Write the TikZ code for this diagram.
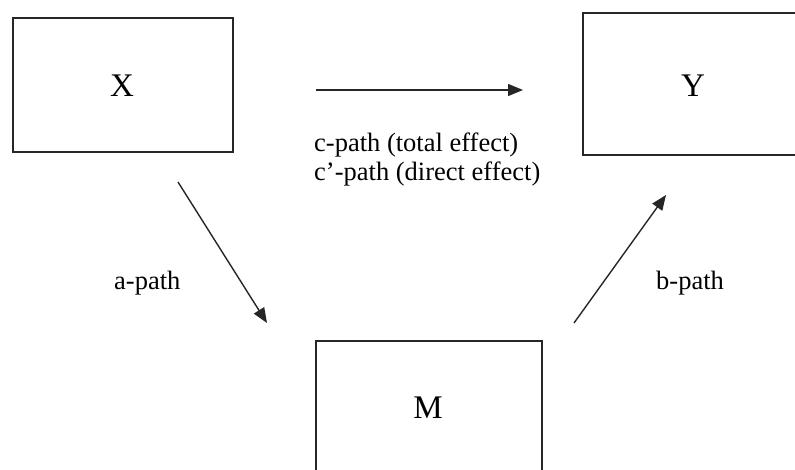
\documentclass[tikz,border=0pt]{standalone}
\usepackage{fontspec}
\setmainfont{Liberation Serif}
\usetikzlibrary{arrows.meta}
\begin{document}
\begin{tikzpicture}[x=1pt,y=-1pt,
  box/.style={draw=black!85,line width=1.6pt},
  conn/.style={line width=1.4pt,draw=black!85,-{Triangle[length=15pt,width=12pt]}},
  lbl/.style={inner sep=0pt,anchor=base west,font=\fontsize{26.5}{30}\selectfont},
  big/.style={inner sep=0pt,anchor=base,font=\fontsize{33}{38}\selectfont}]
\useasboundingbox (0,0) rectangle (795,469);
\begin{scope}
\clip (0,0) rectangle (795,469);
\draw[box] (13,18) rectangle (233,152);
\draw[box] (583,13) rectangle (810,155);
\draw[box] (316,490) -- (316,341) -- (542,341) -- (542,490);
\end{scope}
\node[big] (X) at (122,96) {X};
\node[big] (Y) at (693,96) {Y};
\node[big] (M) at (428,418) {M};
\coordinate (c1) at (316,90);
\coordinate (c2) at (523,90);
\coordinate (a1) at (178,182);
\coordinate (a2) at (267,323);
\coordinate (b1) at (574,323);
\coordinate (b2) at (666,195);
\draw[conn] (c1) -- (c2);
\draw[conn] (a1) -- (a2);
\draw[conn] (b1) -- (b2);
\node[lbl] (ct) at (314,151) {c-path (total effect)};
\node[lbl] (cd) at (314,180) {c’-path (direct effect)};
\node[lbl] (ap) at (114,289) {a-path};
\node[lbl] (bp) at (656,289) {b-path};
\end{tikzpicture}
\end{document}
